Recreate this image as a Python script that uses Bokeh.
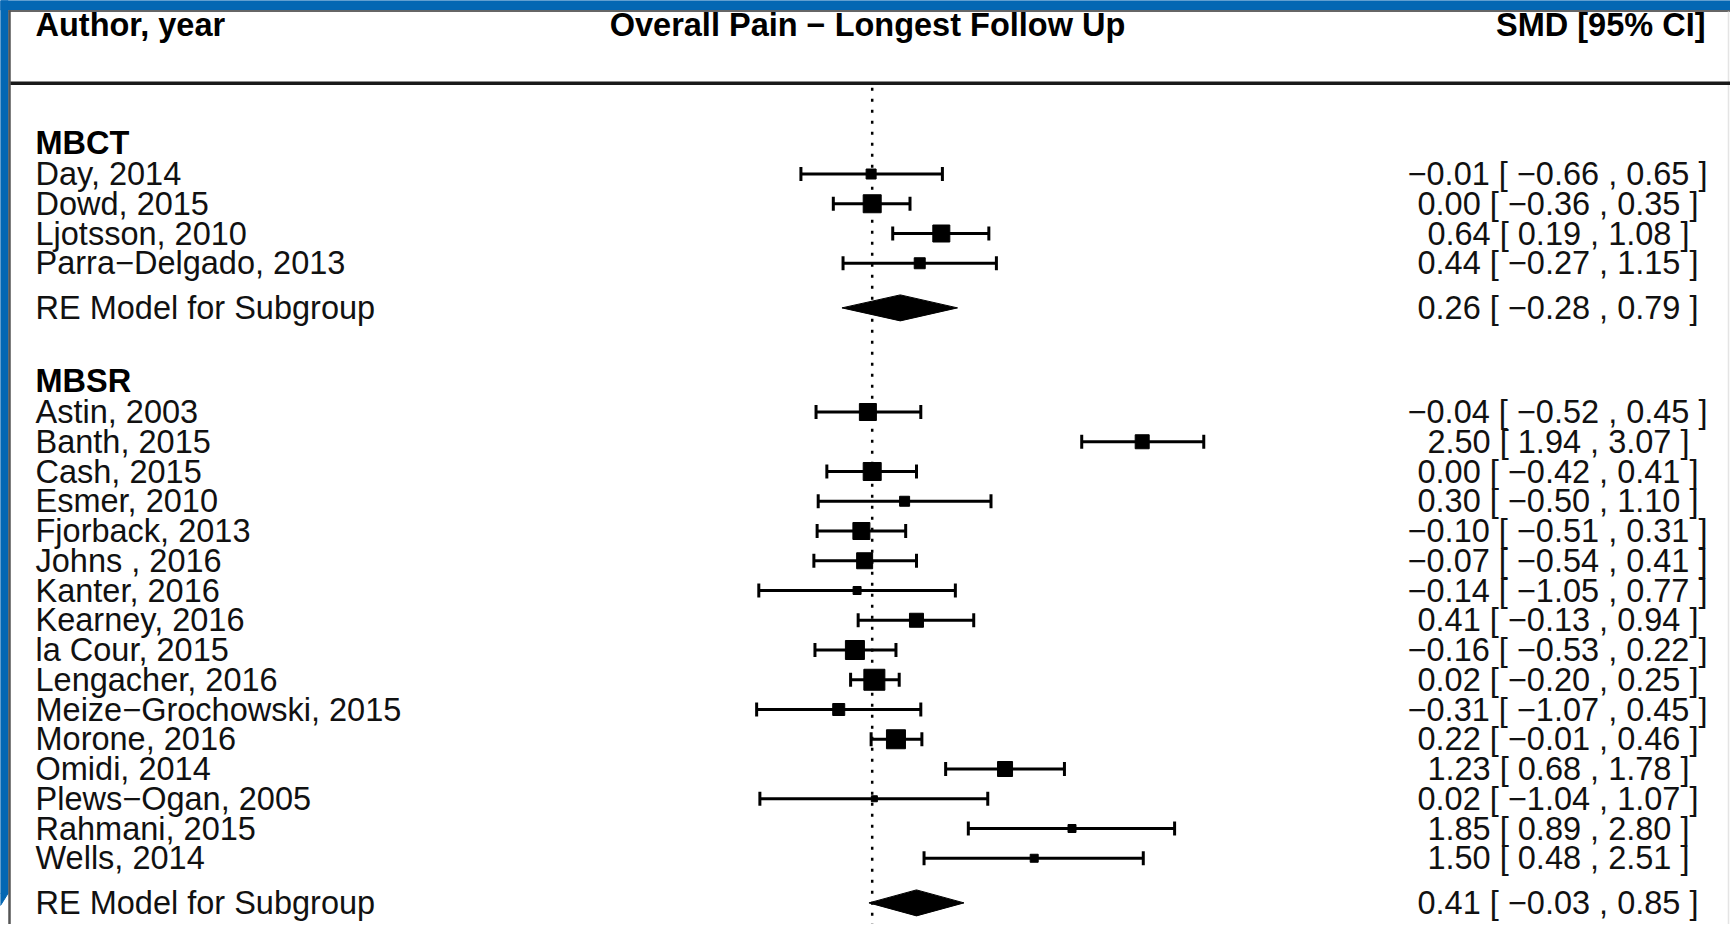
from bokeh.plotting import figure
from bokeh.models import Range1d, ColumnDataSource
from bokeh.core.properties import value
from bokeh.embed import file_html
from bokeh.resources import INLINE

# ---------------- data ----------------
mbct_labels = ["Day, 2014", "Dowd, 2015", "Ljotsson, 2010", "Parra\u2212Delgado, 2013"]
mbct_est = [-0.01, 0.00, 0.64, 0.44]
mbct_lo = [-0.66, -0.36, 0.19, -0.27]
mbct_hi = [0.65, 0.35, 1.08, 1.15]
mbct_weight = [10, 18, 17, 11]

mbsr_labels = ["Astin, 2003", "Banth, 2015", "Cash, 2015", "Esmer, 2010",
               "Fjorback, 2013", "Johns , 2016", "Kanter, 2016", "Kearney, 2016",
               "la Cour, 2015", "Lengacher, 2016", "Meize\u2212Grochowski, 2015",
               "Morone, 2016", "Omidi, 2014", "Plews\u2212Ogan, 2005",
               "Rahmani, 2015", "Wells, 2014"]
mbsr_est = [-0.04, 2.50, 0.00, 0.30, -0.10, -0.07, -0.14, 0.41, -0.16, 0.02,
            -0.31, 0.22, 1.23, 0.02, 1.85, 1.50]
mbsr_lo = [-0.52, 1.94, -0.42, -0.50, -0.51, -0.54, -1.05, -0.13, -0.53, -0.20,
           -1.07, -0.01, 0.68, -1.04, 0.89, 0.48]
mbsr_hi = [0.45, 3.07, 0.41, 1.10, 0.31, 0.41, 0.77, 0.94, 0.22, 0.25,
           0.45, 0.46, 1.78, 1.07, 2.80, 2.51]
mbsr_weight = [17, 14, 18, 10, 17, 16, 8, 14, 19, 21, 12, 19, 15, 6, 8, 8]

group_names = ["MBCT", "MBSR"]
re_label = "RE Model for Subgroup"
re_est = [0.26, 0.41]
re_lo = [-0.28, -0.03]
re_hi = [0.79, 0.85]

header_left = "Author, year"
header_mid = "Overall Pain \u2212 Longest Follow Up"
header_right = "SMD [95% CI]"

# ---------------- layout constants (screen px) ----------------
W, H = 1730, 924
ZERO_PX = 871.7      # screen x of SMD = 0
PX_PER_UNIT = 108.0  # screen px per SMD unit
ROW0_PX = 173.5      # screen y of first study row
ROW_PX = 29.75       # px per row

def sx(px):
    return (px - ZERO_PX) / PX_PER_UNIT

def sy(px):
    return -(px - ROW0_PX) / ROW_PX

FONT = value("Liberation Sans")
FS = "32.5px"

p = figure(width=W, height=H, output_backend="svg", toolbar_location=None,
           x_range=Range1d(sx(0), sx(W)), y_range=Range1d(sy(H), sy(0)),
           x_axis_location=None, y_axis_location=None, min_border=0)
p.grid.visible = False
p.outline_line_color = None
p.background_fill_color = "white"
p.border_fill_color = "white"
p.styles = {"position": "absolute", "left": "0px", "top": "0px"}

# ---- frame of the screenshot ----
BLUE = "#0467b3"
p.quad(left=sx(0), right=sx(W), top=sy(0), bottom=sy(9.5), color=BLUE)
p.quad(left=sx(0), right=sx(7.5), top=sy(0), bottom=sy(893), color=BLUE)
p.patch([sx(0), sx(7.5), sx(0)], [sy(893), sy(893), sy(905)], color=BLUE)
p.segment(x0=sx(8), y0=sy(10.5), x1=sx(W), y1=sy(10.5), line_color="#666666", line_width=2)
p.segment(x0=sx(9), y0=sy(10), x1=sx(9), y1=sy(H), line_color="#555555", line_width=2.5)
p.segment(x0=sx(1728), y0=sy(11), x1=sx(1728), y1=sy(H), line_color="#e4e4e4", line_width=1.5)

# ---- rows ----
rows_study = []
rows_re = []
rows_hdr = []
labels, est, lo, hi, wts = [], [], [], [], []
r = 0.0
groups = [(mbct_labels, mbct_est, mbct_lo, mbct_hi, mbct_weight),
          (mbsr_labels, mbsr_est, mbsr_lo, mbsr_hi, mbsr_weight)]
for gi, (gl, ge, glo, ghi, gw) in enumerate(groups):
    rows_hdr.append(r - 1.05)
    for k in range(len(gl)):
        rows_study.append(r)
        labels.append(gl[k]); est.append(ge[k]); lo.append(glo[k]); hi.append(ghi[k]); wts.append(gw[k])
        r += 1
    rows_re.append(r + 0.5)
    r += 4

# header
p.text(x=[sx(35)], y=[sy(ROW0_PX - 5 * ROW_PX)], text=[header_left], text_font=FONT,
       text_font_size=FS, text_font_style="bold", text_align="left", text_baseline="middle")
p.text(x=[sx(867)], y=[sy(ROW0_PX - 5 * ROW_PX)], text=[header_mid], text_font=FONT,
       text_font_size=FS, text_font_style="bold", text_align="center", text_baseline="middle")
p.text(x=[sx(1705)], y=[sy(ROW0_PX - 5 * ROW_PX)], text=[header_right], text_font=FONT,
       text_font_size=FS, text_font_style="bold", text_align="right", text_baseline="middle")
p.segment(x0=sx(10), y0=-(-3.05), x1=sx(W), y1=-(-3.05), line_color="#1a1a1a", line_width=3.5)

# reference line at 0
p.segment(x0=0, y0=2.9, x1=0, y1=sy(H), line_color="black", line_width=2.5, line_dash="3 8")

# group headers
p.text(x=[sx(35)] * len(group_names), y=[-v for v in rows_hdr], text=group_names, text_font=FONT,
       text_font_size=FS, text_font_style="bold", text_align="left", text_baseline="middle")

# annotation formatting
def fmt_col(vals):
    pad = any(v < 0 for v in vals)
    out = []
    for v in vals:
        s = f"{abs(v):.2f}"
        out.append(("\u2212" if v < 0 else (" " if pad else "")) + s)
    return out

all_est = est + re_est
all_lo = lo + re_lo
all_hi = hi + re_hi
e_s, l_s, h_s = fmt_col(all_est), fmt_col(all_lo), fmt_col(all_hi)
ann = [f"{a} [ {b} , {c} ]" for a, b, c in zip(e_s, l_s, h_s)]

ys = [-v for v in rows_study]
yr = [-v for v in rows_re]
src = ColumnDataSource(dict(y=ys, lab=labels, est=est, lo=lo, hi=hi, w=wts,
                            ann=ann[:len(est)],
                            cap_lo=[v + 0.235 for v in ys], cap_hi=[v - 0.235 for v in ys]))

p.text(x=sx(35), y="y", text="lab", source=src, text_font=FONT, text_font_size=FS,
       text_align="left", text_baseline="middle", text_color="#111111")
p.text(x=sx(1707), y="y", text="ann", source=src, text_font=FONT, text_font_size=FS,
       text_align="right", text_baseline="middle", text_color="#111111")

p.segment(x0="lo", y0="y", x1="hi", y1="y", source=src, line_color="black", line_width=3)
p.segment(x0="lo", y0="cap_lo", x1="lo", y1="cap_hi", source=src, line_color="black", line_width=3)
p.segment(x0="hi", y0="cap_lo", x1="hi", y1="cap_hi", source=src, line_color="black", line_width=3)
p.scatter(x="est", y="y", size="w", marker="square", source=src, color="black")

# RE models
dh = 13 / ROW_PX
p.patches(xs=[[a, b, c, b] for a, b, c in zip(re_lo, re_est, re_hi)],
          ys=[[y, y + dh, y, y - dh] for y in yr], color="black")
p.text(x=[sx(35)] * len(yr), y=yr, text=[re_label] * len(yr), text_font=FONT, text_font_size=FS,
       text_align="left", text_baseline="middle", text_color="#111111")
p.text(x=[sx(1707)] * len(yr), y=yr, text=ann[len(est):], text_font=FONT, text_font_size=FS,
       text_align="right", text_baseline="middle", text_color="#111111")

open("out.html", "w").write(file_html(p, INLINE))
